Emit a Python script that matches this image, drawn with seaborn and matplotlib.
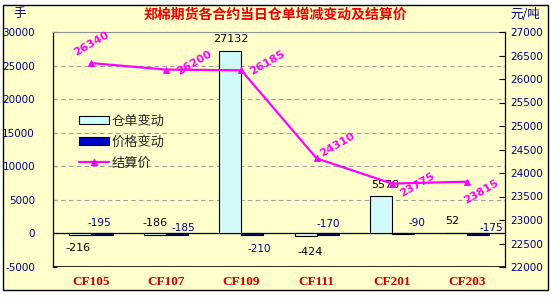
import matplotlib
matplotlib.use("Agg")
import matplotlib.pyplot as plt
from matplotlib.patches import Rectangle, Patch
from matplotlib.lines import Line2D
import seaborn as sns
import pandas as pd

# ---- data ----
contracts = ["CF105", "CF107", "CF109", "CF111", "CF201", "CF203"]
warrant_change = [-216, -186, 27132, -424, 5578, 52]      # 仓单变动
price_change = [-195, -185, -210, -170, -90, -175]         # 价格变动
settle_price = [26340, 26200, 26185, 24310, 23775, 23815]  # 结算价
series_names = ["仓单变动", "价格变动", "结算价"]
title = "郑棉期货各合约当日仓单增减变动及结算价"
left_unit = "手"
right_unit = "元/吨"
left_ticks = [-5000, 0, 5000, 10000, 15000, 20000, 25000, 30000]
right_ticks = [22000, 22500, 23000, 23500, 24000, 24500, 25000, 25500, 26000, 26500, 27000]

# ---- style ----
sns.set_style("white")
plt.rcParams["font.family"] = ["DejaVu Sans", "Noto Sans CJK SC"]
BG = "#FFFFCC"
CYAN = "#CCFFFF"
NAVY = "#000080"
MAG = "#FF00FF"

fig = plt.figure(figsize=(5.55, 2.97), dpi=100)
fig.patch.set_facecolor("white")
W, H = 555, 297
fig.add_artist(Rectangle((3 / W, 1 - 290 / H), 545 / W, 285 / H, transform=fig.transFigure,
                         facecolor=BG, edgecolor="black", linewidth=1.0, zorder=-10))

ax = fig.add_axes([53 / W, 1 - 267 / H, 452 / W, 235 / H])
ax.set_facecolor(BG)

df = pd.DataFrame({
    "合约": contracts * 2,
    "值": warrant_change + price_change,
    "系列": [series_names[0]] * len(contracts) + [series_names[1]] * len(contracts),
})
sns.barplot(data=df, x="合约", y="值", hue="系列", order=contracts,
            hue_order=series_names[:2], palette=[CYAN, NAVY], width=0.58,
            edgecolor="black", linewidth=0.8, legend=False, ax=ax, zorder=3)

ax.set_xlim(-0.5, len(contracts) - 0.5)
ax.set_ylim(left_ticks[0], left_ticks[-1])
ax.set_yticks(left_ticks)
ax.set_yticklabels([str(v) for v in left_ticks])
ax.set_xlabel("")
ax.set_ylabel("")
for v in left_ticks[2:-1]:
    ax.axhline(v, color="#A0A0A0", linestyle=(0, (4, 3)), linewidth=0.8, zorder=1)

# axes frame
ax.spines["bottom"].set_position(("data", 0))
ax.spines["bottom"].set_color("black")
ax.spines["bottom"].set_linewidth(0.9)
ax.spines["left"].set_color("black")
ax.spines["left"].set_linewidth(0.9)
ax.spines["top"].set_color("#909090")
ax.spines["right"].set_visible(False)
ax.axhline(left_ticks[0], color="black", linewidth=1.2, zorder=4)

ax.set_xticks(range(len(contracts)))
ax.set_xticklabels(contracts, fontfamily="Liberation Serif", fontweight="bold",
                   fontsize=9.5, color="#CC0000")
ax.set_xticks([i + 0.5 for i in range(len(contracts) - 1)], minor=True)
ax.tick_params(axis="x", which="major", length=0, pad=31)
ax.tick_params(axis="x", which="minor", direction="in", length=4, width=0.8, color="black")
ax.tick_params(axis="y", direction="in", length=3, width=0.8, color="black",
               labelsize=7.5, labelcolor=NAVY, pad=13, left=True)

# bar value labels (offsets in pixels, up positive)
bar_dx = 0.145
cyan_off = [(-2, -13), (0, 12), (0, 12), (4, -16), (4, 11), (-4, 12)]
navy_off = [(-2, 12), (6, 7), (7, -14), (1, 11), (14, 11), (13, 7)]
for i, (a, b) in enumerate(zip(warrant_change, price_change)):
    ax.annotate(str(a), (i - bar_dx, a), xytext=cyan_off[i], textcoords="offset pixels",
                ha="center", va="center", fontsize=8, color="black", zorder=6)
    ax.annotate(str(b), (i + bar_dx, b), xytext=navy_off[i], textcoords="offset pixels",
                ha="center", va="center", fontsize=7.5, color=NAVY, zorder=6)

# price line on right axis
ax2 = ax.twinx()
ax2.patch.set_visible(False)
sns.lineplot(x=list(range(len(contracts))), y=settle_price, ax=ax2, color=MAG,
             linewidth=1.6, marker="^", markersize=5, markeredgecolor=MAG, zorder=5)
ax2.set_ylim(right_ticks[0], right_ticks[-1])
ax2.set_yticks(right_ticks)
ax2.set_yticklabels([str(v) for v in right_ticks])
ax2.set_ylabel("")
for s in ["top", "left", "bottom"]:
    ax2.spines[s].set_visible(False)
ax2.spines["right"].set_color("black")
ax2.spines["right"].set_linewidth(0.9)
ax2.tick_params(axis="y", direction="in", length=4, width=0.8, color="black",
                labelsize=7.5, labelcolor=NAVY, pad=4)

price_off = [(1, 19), (28, 7), (26, 8), (21, 14), (25, -1), (14, -10)]
for i, p in enumerate(settle_price):
    ax2.annotate(str(p), (i, p), xytext=price_off[i], textcoords="offset pixels",
                 ha="center", va="center", rotation=30, fontsize=8, fontweight="bold",
                 color=MAG, zorder=6)

# legend
handles = [
    Patch(facecolor=CYAN, edgecolor="black", linewidth=0.8),
    Patch(facecolor="#0000CC", edgecolor="black", linewidth=0.8),
    Line2D([0], [0], color=MAG, linewidth=1.6, marker="^", markersize=4),
]
leg = ax.legend(handles, series_names, loc="upper left", bbox_to_anchor=(0.045, 0.67),
                frameon=False, fontsize=9.5, handlelength=2.3, handleheight=0.6,
                labelspacing=0.6, handletextpad=0.2, borderaxespad=0)
for t in leg.get_texts():
    t.set_fontfamily(["Noto Sans CJK SC"])
leg.set_zorder(7)

# title and units
fig.text(275 / W, 1 - 15 / H, title, ha="center", va="center", fontsize=10,
         fontweight="bold", color="#EE0000", family=["Noto Sans CJK SC"])
fig.text(20 / W, 1 - 14 / H, left_unit, ha="center", va="center", fontsize=9,
         color=NAVY, family=["Noto Sans CJK SC"])
fig.text(525 / W, 1 - 14 / H, right_unit, ha="center", va="center", fontsize=9,
         color=NAVY, family=["Noto Sans CJK SC", "DejaVu Sans"])

fig.savefig("out.png", dpi=100, facecolor=fig.get_facecolor())
